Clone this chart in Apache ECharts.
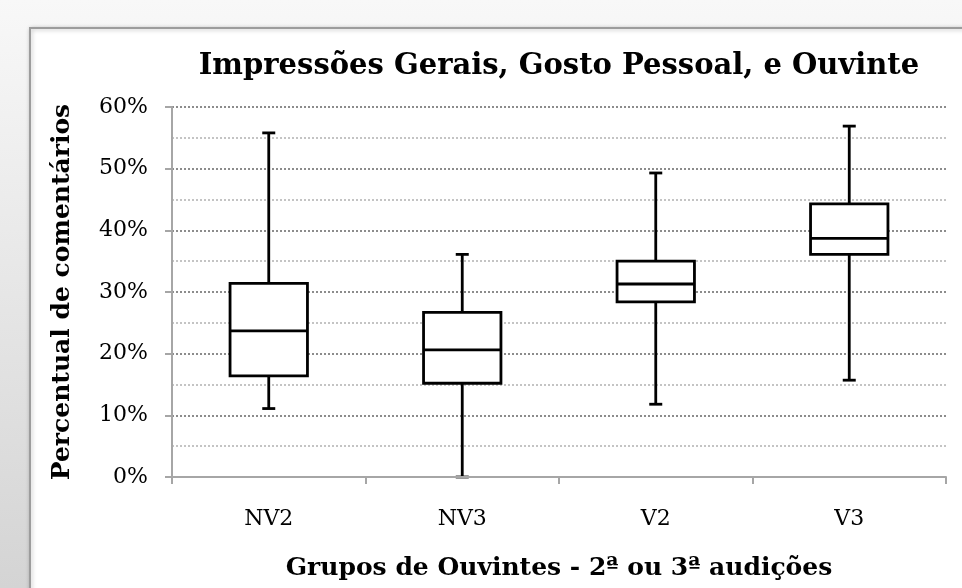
<!DOCTYPE html>
<html>
<head>
<meta charset="utf-8">
<script src="https://cdn.jsdelivr.net/npm/echarts@6/dist/echarts.min.js"></script>
<style>
    html, body { margin: 0; padding: 0; }
    #chart { width: 962px; height: 588px; }
</style>
</head>
<body>
<div id="chart"></div>
<script>
    // grupos de ouvintes
    var categories = ['NV2', 'NV3', 'V2', 'V3'];
    // percentuais (%)
    var whiskerLow = [11.1, 0.0, 11.8, 15.7];
    var quartil1 = [16.4, 15.2, 28.4, 36.1];
    var mediana = [23.7, 20.6, 31.3, 38.7];
    var quartil3 = [31.4, 26.7, 35.0, 44.3];
    var whiskerHigh = [55.8, 36.1, 49.3, 56.9];
    var yTicks = [0, 10, 20, 30, 40, 50, 60];

    var fontFamily = '"DejaVu Serif", "Liberation Serif", serif';

    var boxData = categories.map(function (c, i) {
        return [i, whiskerLow[i], quartil1[i], mediana[i], quartil3[i], whiskerHigh[i]];
    });

    var renderBox = function (params, api) {
        var idx = api.value(0);
        var pLow = api.coord([idx, api.value(1)]);
        var pQ1 = api.coord([idx, api.value(2)]);
        var pMed = api.coord([idx, api.value(3)]);
        var pQ3 = api.coord([idx, api.value(4)]);
        var pHigh = api.coord([idx, api.value(5)]);
        var band = api.size([1, 0])[0];
        var half = band * 0.2;
        var cap = 6.5;
        var x = pMed[0];
        var style = { stroke: '#000', lineWidth: 2.8, fill: null };
        return {
            type: 'group',
            children: [
                { type: 'line', shape: { x1: x, y1: pHigh[1], x2: x, y2: pQ3[1] }, style: style },
                { type: 'line', shape: { x1: x, y1: pQ1[1], x2: x, y2: pLow[1] }, style: style },
                { type: 'line', shape: { x1: x - cap, y1: pHigh[1], x2: x + cap, y2: pHigh[1] }, style: style },
                { type: 'line', shape: { x1: x - cap, y1: pLow[1], x2: x + cap, y2: pLow[1] }, style: style },
                {
                    type: 'rect',
                    shape: { x: x - half, y: pQ3[1], width: half * 2, height: pQ1[1] - pQ3[1] },
                    style: { stroke: '#000', lineWidth: 2.8, fill: '#fff' }
                },
                { type: 'line', shape: { x1: x - half, y1: pMed[1], x2: x + half, y2: pMed[1] }, style: style }
            ]
        };
    };

    var myChart = echarts.init(document.getElementById('chart'));
    var option = {
        backgroundColor: {
            type: 'linear', x: 0, y: 0, x2: 0, y2: 1,
            colorStops: [{ offset: 0, color: '#f8f8f8' }, { offset: 1, color: '#d4d4d4' }]
        },
        graphic: [{
            type: 'rect',
            z: -10,
            shape: { x: 30, y: 28, width: 960, height: 600 },
            style: {
                fill: '#fff', stroke: '#9c9c9c', lineWidth: 2,
                shadowBlur: 4, shadowColor: 'rgba(0,0,0,0.25)', shadowOffsetX: 1, shadowOffsetY: 1
            }
        }],
        title: {
            text: 'Impressões Gerais, Gosto Pessoal, e Ouvinte',
            left: 554,
            top: 47,
            textAlign: 'center',
            textStyle: { fontFamily: fontFamily, fontWeight: 'bold', fontSize: 29, color: '#000' }
        },
        grid: { left: 172, right: 16, top: 107, bottom: 111 },
        xAxis: {
            type: 'category',
            data: categories,
            z: 5,
            name: 'Grupos de Ouvintes - 2ª ou 3ª audições',
            nameLocation: 'middle',
            nameGap: 79,
            nameTextStyle: { fontFamily: fontFamily, fontWeight: 'bold', fontSize: 25, color: '#000' },
            axisLine: { lineStyle: { color: '#a6a6a6', width: 2 } },
            axisTick: { show: true, length: 7, lineStyle: { color: '#a6a6a6', width: 2 } },
            axisLabel: { margin: 31, fontFamily: fontFamily, fontSize: 22, color: '#000' },
            splitLine: { show: false }
        },
        yAxis: {
            type: 'value',
            min: yTicks[0],
            max: yTicks[yTicks.length - 1],
            interval: 10,
            name: 'Percentual de comentários',
            nameLocation: 'middle',
            nameGap: 97,
            nameTextStyle: { fontFamily: fontFamily, fontWeight: 'bold', fontSize: 25, color: '#000' },
            axisLine: { show: true, lineStyle: { color: '#a6a6a6', width: 2 } },
            axisTick: { show: true, length: 7, lineStyle: { color: '#a6a6a6', width: 2 } },
            axisLabel: { margin: 24, fontFamily: fontFamily, fontSize: 22, color: '#000', formatter: '{value}%' },
            splitLine: { show: true, lineStyle: { type: 'dotted', color: '#8c8c8c', width: 2 } },
            minorTick: { show: false, splitNumber: 2 },
            minorSplitLine: { show: true, lineStyle: { type: 'dotted', color: '#c4c4c4', width: 2 } }
        },
        series: [{
            type: 'custom',
            renderItem: renderBox,
            data: boxData,
            encode: { x: 0, y: [1, 2, 3, 4, 5] },
            z: 3
        }]
    };
    myChart.setOption(option);
</script>
</body>
</html>
